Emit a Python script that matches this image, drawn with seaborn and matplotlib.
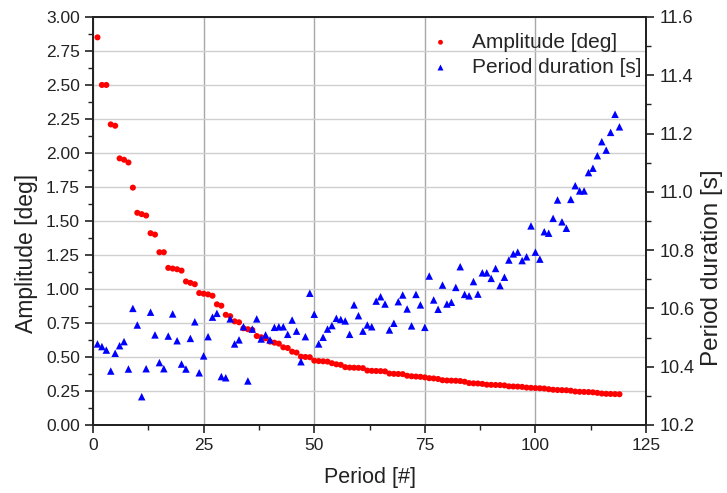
import matplotlib
matplotlib.use("Agg")
import matplotlib.pyplot as plt
from matplotlib.ticker import MultipleLocator, FormatStrFormatter
import seaborn as sns
import pandas as pd

period = list(range(1, 120))

amplitude = [
    2.85, 2.50, 2.50, 2.21, 2.20, 1.96, 1.95, 1.93, 1.745, 1.56,
    1.55, 1.54, 1.41, 1.40, 1.27, 1.27, 1.155, 1.15, 1.145, 1.135,
    1.055, 1.045, 1.035, 0.97, 0.965, 0.96, 0.95, 0.887, 0.877, 0.81,
    0.80, 0.762, 0.755, 0.711, 0.704, 0.699, 0.654, 0.645, 0.637, 0.613,
    0.605, 0.598, 0.571, 0.566, 0.539, 0.532, 0.502, 0.500, 0.498, 0.473,
    0.470, 0.468, 0.466, 0.454, 0.446, 0.442, 0.425, 0.422, 0.421, 0.420,
    0.418, 0.400, 0.398, 0.397, 0.396, 0.394, 0.378, 0.376, 0.375, 0.374,
    0.362, 0.358, 0.356, 0.354, 0.350, 0.344, 0.342, 0.338, 0.329, 0.327,
    0.326, 0.325, 0.323, 0.318, 0.308, 0.306, 0.305, 0.302, 0.296, 0.295,
    0.294, 0.293, 0.291, 0.284, 0.283, 0.282, 0.280, 0.275, 0.273, 0.271,
    0.270, 0.268, 0.263, 0.259, 0.257, 0.256, 0.255, 0.252, 0.246, 0.244,
    0.243, 0.242, 0.240, 0.236, 0.231, 0.229, 0.228, 0.227, 0.226,
]

duration = [
    10.478, 10.469, 10.457, 10.385, 10.446, 10.472, 10.486, 10.392, 10.600, 10.543,
    10.297, 10.393, 10.587, 10.509, 10.414, 10.393, 10.505, 10.581, 10.489, 10.409,
    10.392, 10.497, 10.554, 10.379, 10.437, 10.503, 10.570, 10.583, 10.366, 10.362,
    10.564, 10.478, 10.492, 10.537, 10.351, 10.529, 10.564, 10.495, 10.509, 10.492,
    10.535, 10.537, 10.537, 10.511, 10.560, 10.522, 10.417, 10.503, 10.652, 10.580,
    10.478, 10.501, 10.529, 10.541, 10.566, 10.562, 10.557, 10.511, 10.612, 10.575,
    10.522, 10.543, 10.537, 10.625, 10.640, 10.615, 10.526, 10.549, 10.623, 10.646,
    10.598, 10.540, 10.648, 10.612, 10.535, 10.711, 10.629, 10.597, 10.680, 10.615,
    10.621, 10.672, 10.743, 10.648, 10.643, 10.692, 10.649, 10.722, 10.722, 10.703,
    10.737, 10.678, 10.707, 10.766, 10.787, 10.793, 10.764, 10.777, 10.883, 10.793,
    10.769, 10.863, 10.858, 10.909, 10.972, 10.897, 10.875, 10.974, 11.021, 11.003,
    11.003, 11.066, 11.081, 11.124, 11.172, 11.143, 11.204, 11.266, 11.223,
]

label_amp = "Amplitude [deg]"
label_dur = "Period duration [s]"
x_label = "Period [#]"

df = pd.DataFrame({"period": period, "amplitude": amplitude, "duration": duration})

sns.set_style("ticks")
plt.rcParams["font.family"] = ["Liberation Sans", "DejaVu Sans"]

fig = plt.figure(figsize=(7.27, 4.93), dpi=100)
ax = fig.add_axes([0.128, 0.138, 0.7606, 0.8276])
ax2 = ax.twinx()

sns.scatterplot(data=df, x="period", y="amplitude", ax=ax, color="#ff0000",
                marker="o", s=19, edgecolor="none", label=label_amp, legend=False, zorder=3)
sns.scatterplot(data=df, x="period", y="duration", ax=ax2, color="#0000ff",
                marker="^", s=29, edgecolor="none", label=label_dur, legend=False, zorder=3)

ax.set_xlim(0, 125)
ax.set_ylim(0, 3.0)
ax2.set_ylim(10.2, 11.6)

ax.xaxis.set_major_locator(MultipleLocator(25))
ax.xaxis.set_minor_locator(MultipleLocator(12.5))
ax.yaxis.set_major_locator(MultipleLocator(0.25))
ax.yaxis.set_minor_locator(MultipleLocator(0.125))
ax2.yaxis.set_major_locator(MultipleLocator(0.2))
ax2.yaxis.set_minor_locator(MultipleLocator(0.1))
ax.yaxis.set_major_formatter(FormatStrFormatter("%.2f"))
ax2.yaxis.set_major_formatter(FormatStrFormatter("%.1f"))

ax.grid(True, which="major", axis="y", color="#cfcfcf", linewidth=1.0)
ax.grid(True, which="major", axis="x", color="#a8a8a8", linewidth=1.0)
ax.set_axisbelow(True)

for a in (ax, ax2):
    for sp in a.spines.values():
        sp.set_color("#222222")
        sp.set_linewidth(1.3)
    a.tick_params(which="major", direction="out", length=6, width=1.2,
                  colors="#222222", labelcolor="#222222")
    a.tick_params(which="minor", direction="out", length=3.5, width=1.0, colors="#222222")
ax.tick_params(axis="y", labelsize=12.5)
ax.tick_params(axis="x", labelsize=12.5)
ax2.tick_params(axis="y", labelsize=13)

ax.set_xlabel(x_label, fontsize=15.5, color="#222222")
ax.set_ylabel(label_amp, fontsize=16.5, color="#222222")
ax2.set_ylabel(label_dur, fontsize=17.5, color="#222222")
ax.xaxis.set_label_coords(0.5, -0.103)
ax.yaxis.set_label_coords(-0.1, 0.42)
ax2.yaxis.set_label_coords(1.1, 0.385)

h1, l1 = ax.get_legend_handles_labels()
h2, l2 = ax2.get_legend_handles_labels()
leg = ax2.legend(h1 + h2, l1 + l2, loc="upper right", bbox_to_anchor=(1.014, 0.992),
                 frameon=False, fontsize=15, handlelength=1.0, handletextpad=1.0,
                 labelspacing=0.3, markerscale=0.8, borderaxespad=0.2)

fig.savefig("out.png", dpi=100)
